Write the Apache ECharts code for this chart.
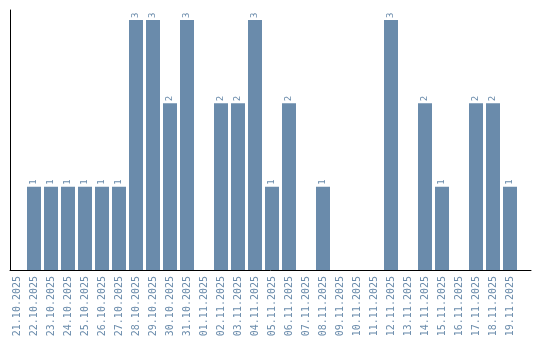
<!DOCTYPE html>
<html><head><meta charset="utf-8">
<script src="https://cdn.jsdelivr.net/npm/echarts@6/dist/echarts.min.js"></script>
<style>html,body{margin:0;padding:0;background:#fff}#c{width:540px;height:340px}</style>
</head><body><div id="c"></div>
<script>
const categories = ["21.10.2025","22.10.2025","23.10.2025","24.10.2025","25.10.2025","26.10.2025","27.10.2025","28.10.2025","29.10.2025","30.10.2025","31.10.2025","01.11.2025","02.11.2025","03.11.2025","04.11.2025","05.11.2025","06.11.2025","07.11.2025","08.11.2025","09.11.2025","10.11.2025","11.11.2025","12.11.2025","13.11.2025","14.11.2025","15.11.2025","16.11.2025","17.11.2025","18.11.2025","19.11.2025"];
const values = [0,1,1,1,1,1,1,3,3,2,3,0,2,2,3,1,2,0,1,0,0,0,3,0,2,1,0,2,2,1];
const color = '#6a8bab';
const chart = echarts.init(document.getElementById('c'));
chart.setOption({
  animation:false,
  grid:[{left:8.5,right:21.5,top:10,bottom:70},{left:10,right:9,top:10,bottom:70}],
  xAxis:[{type:'category',gridIndex:0,data:categories,axisLine:{show:false},axisTick:{show:false},
    axisLabel:{interval:0,rotate:90,margin:6,color:color,fontFamily:'DejaVu Sans Mono',fontSize:10}},
    {type:'value',gridIndex:1,min:0,max:1,axisLine:{show:true,lineStyle:{color:'#000',width:1}},axisTick:{show:false},axisLabel:{show:false},splitLine:{show:false}}],
  yAxis:[{type:'value',gridIndex:0,min:0,max:3.12,axisLine:{show:false},axisTick:{show:false},axisLabel:{show:false},splitLine:{show:false}},
    {type:'value',gridIndex:1,min:0,max:1,axisLine:{show:true,lineStyle:{color:'#000',width:1}},axisTick:{show:false},axisLabel:{show:false},splitLine:{show:false}}],
  series:[{type:'bar',xAxisIndex:0,yAxisIndex:0,data:values,barWidth:14,itemStyle:{color:color},
    label:{show:true,position:'top',rotate:90,align:'left',verticalAlign:'middle',distance:2,color:color,fontFamily:'DejaVu Sans Mono',fontSize:9,
      formatter:p=>p.value>0?p.value:''}}]
});
</script></body></html>
